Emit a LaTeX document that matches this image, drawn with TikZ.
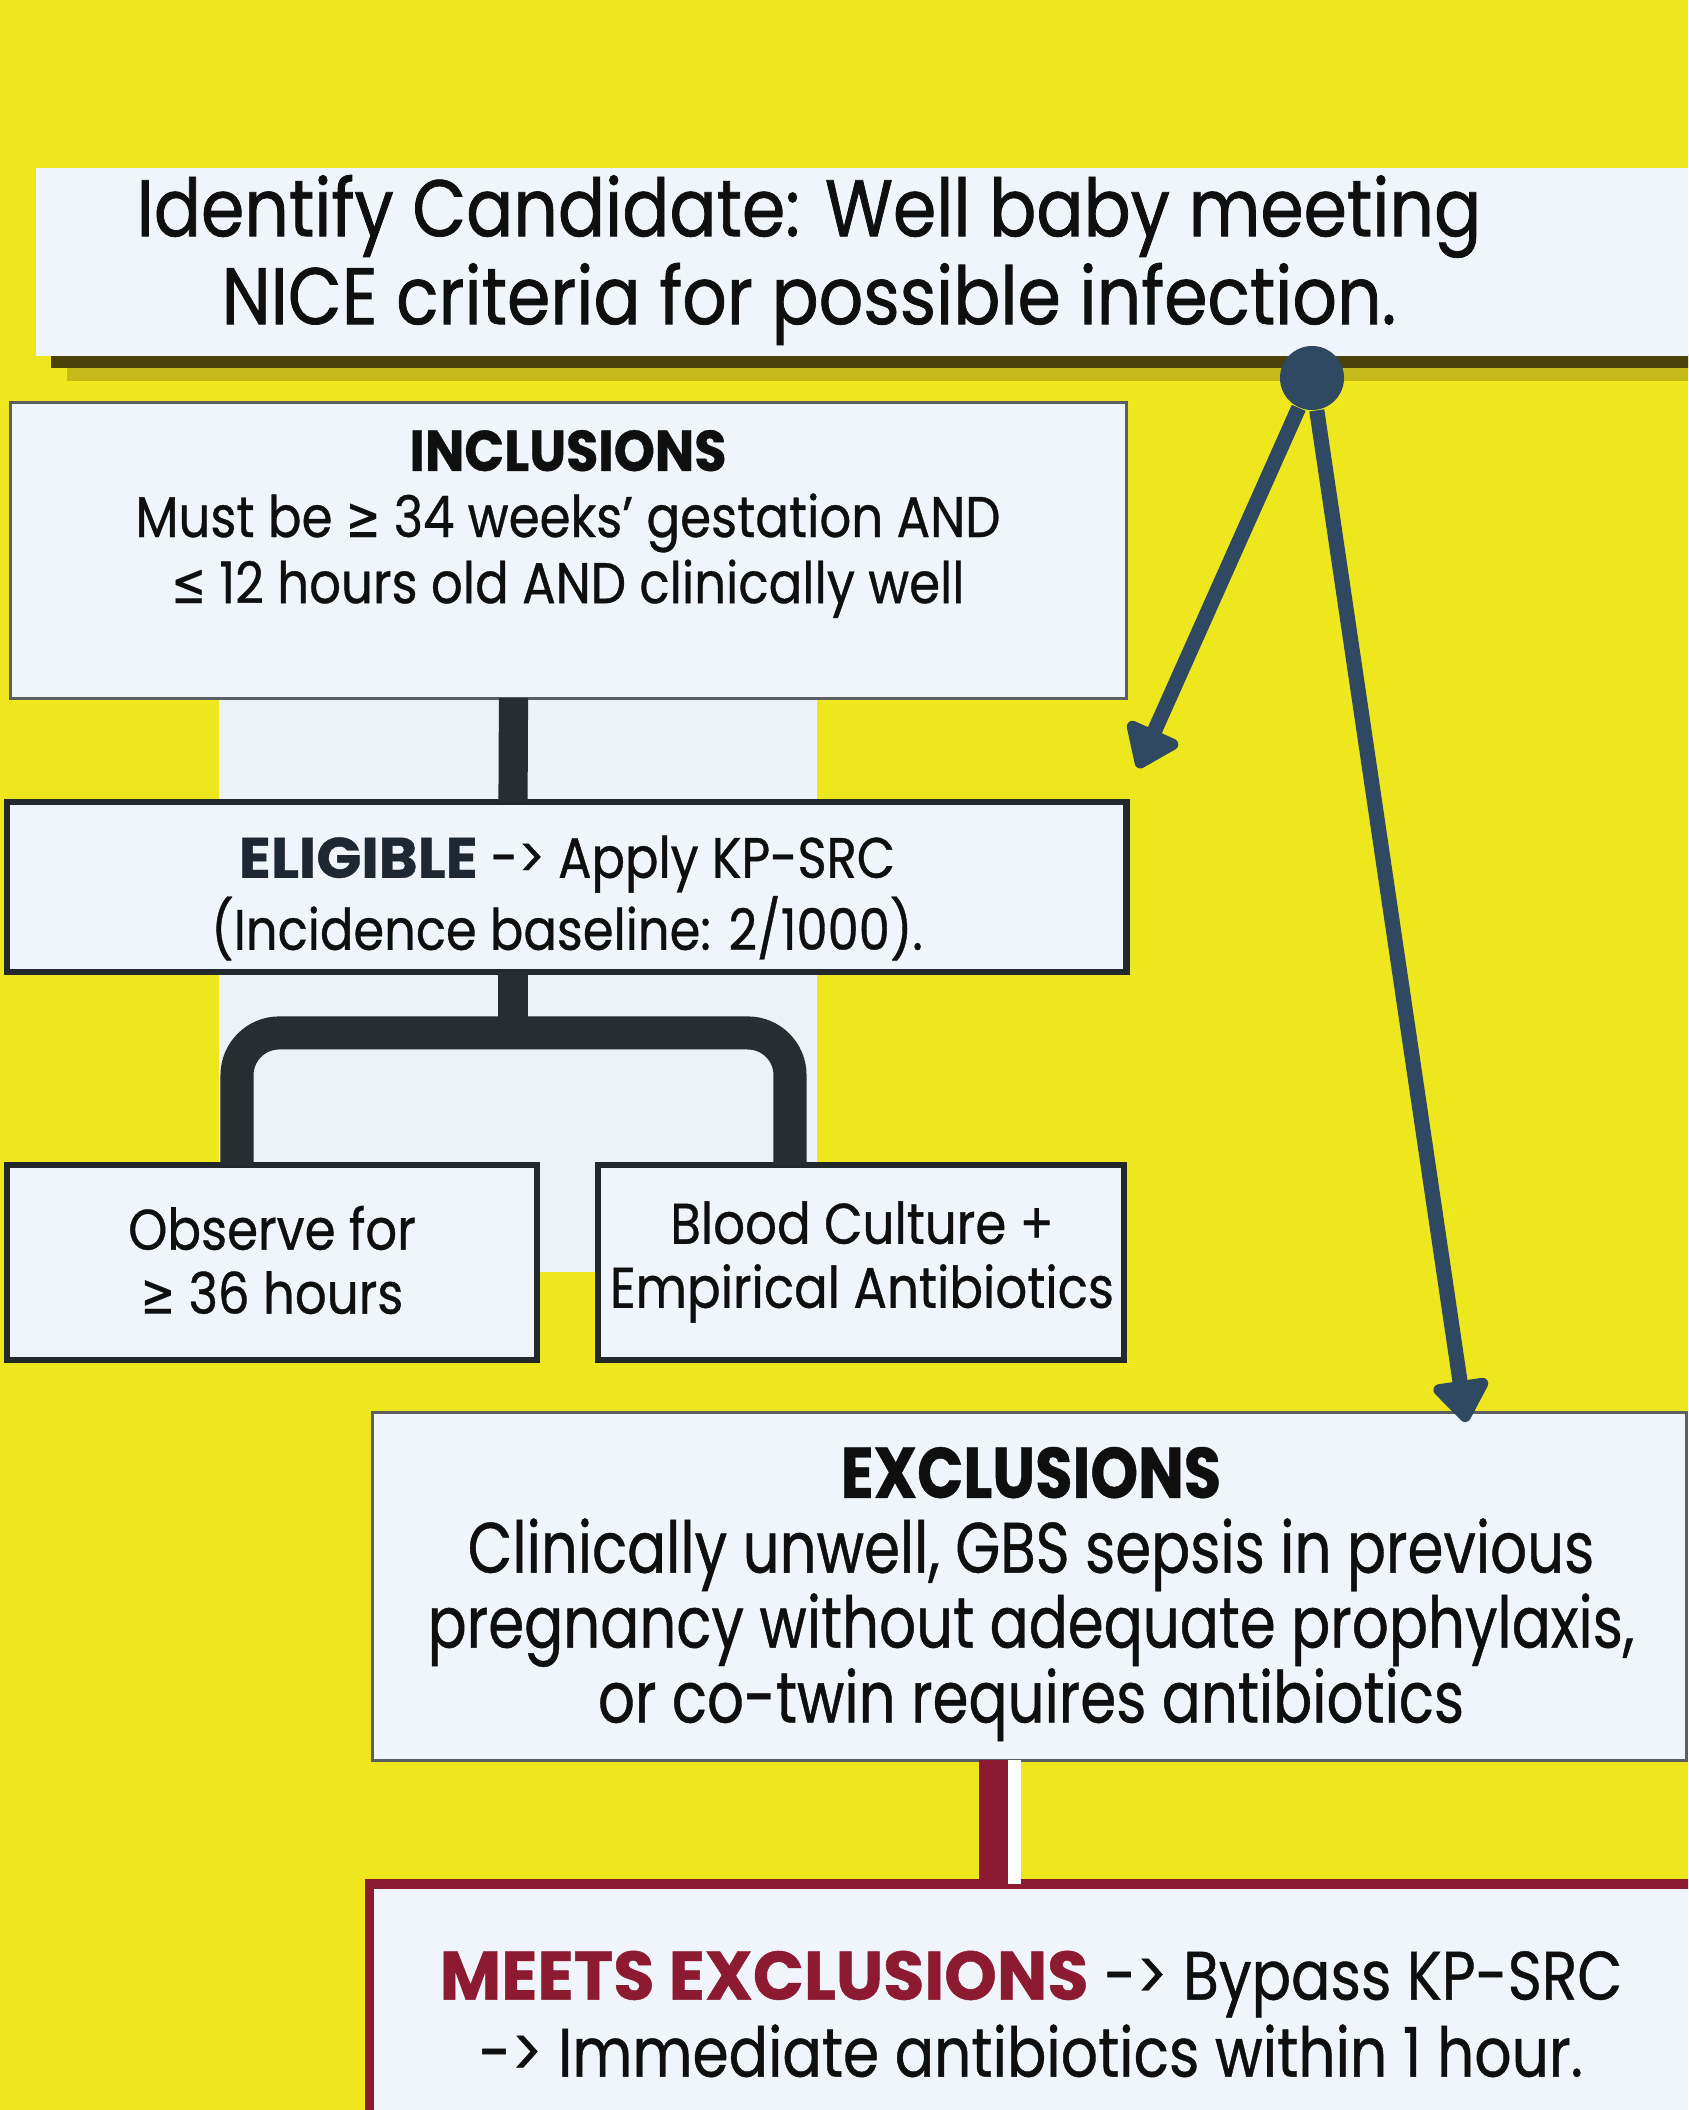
\documentclass[tikz,border=0pt]{standalone}
\usepackage{fontspec}
\usepackage{graphicx}
\setmainfont{Poppins}
\newfontfamily\titlefont{Poppins}[FakeStretch=0.87, FakeBold=0.9]
\newfontfamily\boxfont{Poppins}[FakeStretch=0.87, FakeBold=0.6]
\newfontfamily\exfont{Poppins}[FakeStretch=0.81, FakeBold=0.6]
\newfontfamily\meetsfont{Poppins}[FakeStretch=0.85, FakeBold=0.6]
\newfontfamily\symfont{DejaVu Sans}[FakeStretch=0.72, FakeBold=0.3]
\newcommand{\symge}{{\symfont ≥}}
\newcommand{\symle}{{\symfont ≤}}
\usetikzlibrary{arrows.meta,calc}
\definecolor{bgyellow}{RGB}{238,231,30}
\definecolor{boxfill}{RGB}{239,245,250}
\definecolor{panelfill}{RGB}{236,242,247}
\definecolor{shadowdark}{RGB}{75,66,10}
\definecolor{shadowlight}{RGB}{196,187,26}
\definecolor{arrowblue}{RGB}{46,73,97}
\definecolor{bardark}{RGB}{40,45,50}
\definecolor{grayborder}{RGB}{92,95,98}
\definecolor{darkborder}{RGB}{35,40,45}
\definecolor{exred}{RGB}{140,27,50}
\definecolor{headslate}{RGB}{30,40,52}
\definecolor{txt}{RGB}{15,15,15}
\newcommand{\hd}[2]{\scalebox{#1}[1]{\textbf{#2}}}
\tikzset{
  boxbase/.style={rectangle, fill=boxfill, inner sep=0pt, outer sep=0pt},
  graybox/.style={boxbase, draw=grayborder, line width=0.9pt},
  darkbox/.style={boxbase, draw=darkborder, line width=1.8pt},
  redbox/.style={boxbase, draw=exred, line width=2.6pt},
  btext/.style={align=center, text=txt, inner sep=0pt},
  arr/.style={draw=arrowblue, line width=4.3pt, -{Triangle[length=13pt,width=18pt,round]}},
  vbar/.style={draw=bardark, line width=8.3pt},
  forkbar/.style={draw=bardark, line width=9.4pt, rounded corners=12pt},
  redbar/.style={draw=exred, line width=8.3pt},
}
\begin{document}
\begin{tikzpicture}[x=0.01cm,y=-0.01cm]
\useasboundingbox (0,0) rectangle (1688,2110);
\clip (0,0) rectangle (1688,2110);
\fill[bgyellow] (0,0) rectangle (1688,2110);
% light panel behind the inclusion branch
\fill[panelfill] (219,697) rectangle (817,1272);
% title shadow
\fill[shadowlight] (67,360) rectangle (1700,381);
\fill[shadowdark] (51,354) rectangle (1700,368);
% title
\node[boxbase, minimum width=16.64cm, minimum height=1.88cm] (title) at (868,262) {};
\node[btext, font={\titlefont\fontsize{22.8}{25}\selectfont}] (titletext) at (809,260)
  {Identify Candidate: Well baby meeting\\NICE criteria for possible infection.};
% hub
\node[circle, fill=arrowblue, minimum size=0.64cm, inner sep=0pt] (hub) at (1312,378) {};
% inclusions
\node[graybox, minimum width=11.15cm, minimum height=2.95cm] (incl) at (568.5,550.5) {};
\node[btext, font={\boxfont\fontsize{16.3}{18.8}\selectfont}] (incltext) at (568,524)
  {\hd{1.05}{INCLUSIONS}\\Must be \symge{} 34 weeks’ gestation AND\\\symle{} 12 hours old AND clinically well};
% eligible
\node[darkbox, minimum width=11.19cm, minimum height=1.70cm] (elig) at (566.5,887) {};
\node[btext, font={\boxfont\fontsize{16.2}{18.4}\selectfont}] (eligtext) at (567,898)
  {\textcolor{headslate}{\hd{1.19}{ELIGIBLE}} -> Apply KP-SRC\\(Incidence baseline: 2/1000).};
% observe / blood
\node[darkbox, minimum width=5.30cm, minimum height=1.95cm] (obs) at (272,1262.5) {};
\node[btext, font={\boxfont\fontsize{16.3}{18.2}\selectfont}] (obstext) at (272,1260)
  {Observe for\\\symge{} 36 hours};
\node[darkbox, minimum width=5.26cm, minimum height=1.95cm] (blood) at (861,1262.5) {};
\node[btext, font={\boxfont\fontsize{16.3}{18.2}\selectfont}] (bloodtext) at (862,1262)
  {Blood Culture +\\Empirical Antibiotics};
% exclusions
\node[graybox, minimum width=13.13cm, minimum height=3.47cm] (excl) at (1029.5,1586.5) {};
\node[btext, font={\exfont\fontsize{20.3}{21.3}\selectfont}] (excltext) at (1031,1594)
  {\hd{1.05}{EXCLUSIONS}\\Clinically unwell, GBS sepsis in previous\\pregnancy without adequate prophylaxis,\\or co-twin requires antibiotics};
% meets exclusions
\node[redbox, minimum width=13.30cm, minimum height=2.50cm] (meets) at (1035,2009) {};
\node[btext, font={\meetsfont\fontsize{19.5}{21.9}\selectfont}] (meetstext) at (1031,2014)
  {\textcolor{exred}{\hd{1.15}{MEETS EXCLUSIONS}} -> Bypass KP-SRC\\-> Immediate antibiotics within 1 hour.};
% connectors
\draw[vbar] ($(incl.south)+(-55,0)$) -- ($(elig.north)+(-53.5,0)$);
\draw[vbar] ($(elig.south)+(-53.5,0)$) -- ($(elig.south)+(-53.5,62)$);
\draw[forkbar] ($(obs.north)+(-35,0)$) |- ($(blood.north)+(-71,-132)$) -- ($(blood.north)+(-71,0)$);
\coordinate (rtop) at ($(excl.south)+(-36,0)$);
\draw[redbar] (rtop) -- (rtop |- meets.north);
\draw[white, line width=3.5pt] ($(rtop)+(21,0)$) -- ($(rtop |- meets.north)+(21,0)$);
% arrows from hub
\coordinate (tipL) at (1138,768);
\coordinate (tipR) at (1466,1422);
\draw[arr] (hub) -- (tipL);
\draw[arr] (hub) -- (tipR);
\end{tikzpicture}
\end{document}
